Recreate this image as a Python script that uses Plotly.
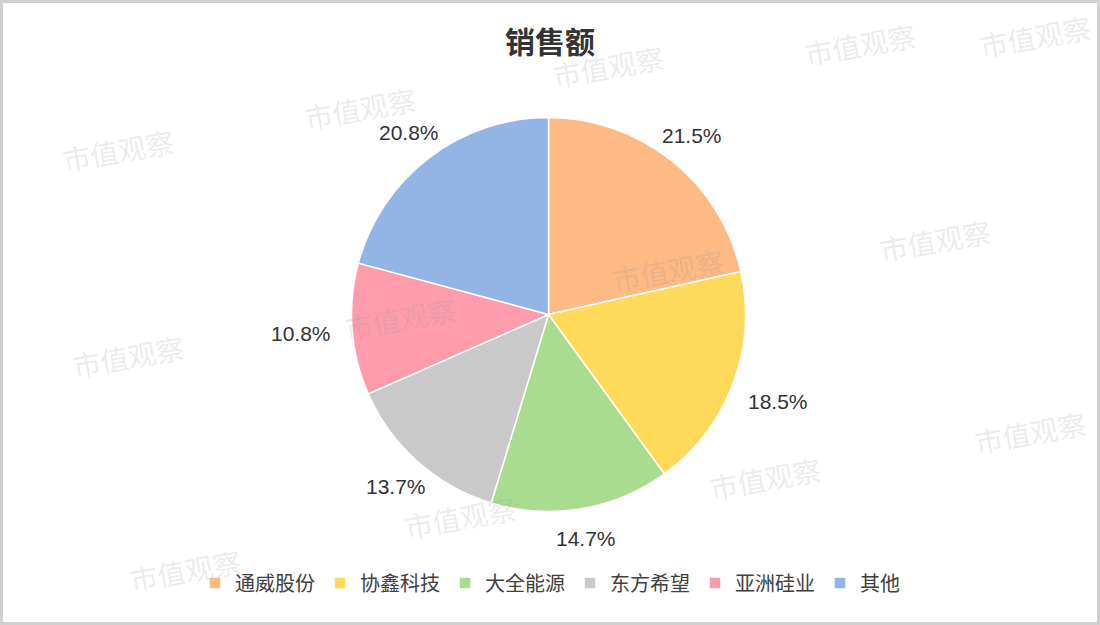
import math
import plotly.graph_objects as go

categories = ["通威股份", "协鑫科技", "大全能源", "东方希望", "亚洲硅业", "其他"]
shares = [21.5, 18.5, 14.7, 13.7, 10.8, 20.8]
colors = ["#ffb985", "#ffd95a", "#a9dc8e", "#c9c9c9", "#ff9cab", "#93b5e6"]
title_text = "销售额"
watermark_text = "市值观察"
watermark_pos = [(118, 150), (360, 108), (608, 66), (860, 44), (1035, 36),
                 (128, 356), (400, 318), (668, 270), (935, 240), (1030, 432),
                 (765, 478), (460, 517), (185, 570)]

W, H = 1100, 625
cx, cy, r = 548.5, 314.5, 197
label_gap = 20          # distance from pie edge to label box
label_font = 21
label_w_per_char = 12.4  # approx text advance per character at label_font
label_half_h = 10

fig = go.Figure()
fig.add_trace(go.Pie(
    labels=categories,
    values=shares,
    sort=False,
    direction="clockwise",
    rotation=0,
    marker=dict(colors=colors, line=dict(color="#ffffff", width=1.5)),
    textinfo="none",
    hoverinfo="label+percent",
    domain=dict(x=[(cx - r) / W, (cx + r) / W], y=[1 - (cy + r) / H, 1 - (cy - r) / H]),
    automargin=False,
))

annotations = []
# percentage labels placed outside each slice at its mid-angle (computed from data)
total = sum(shares)
cum = 0.0
for v in shares:
    mid = (cum + v / 2) / total * 2 * math.pi
    cum += v
    s, c = math.sin(mid), math.cos(mid)
    txt = f"{v / total * 100:.1f}%"
    half_w = len(txt) * label_w_per_char / 2
    edge = min(half_w / abs(s) if abs(s) > 1e-6 else 1e9,
               label_half_h / abs(c) if abs(c) > 1e-6 else 1e9)
    d = r + label_gap + edge
    px, py = cx + d * s, cy - d * c
    annotations.append(dict(
        x=px / W, y=1 - py / H, xref="paper", yref="paper",
        xanchor="center", yanchor="middle", text=txt, showarrow=False,
        font=dict(family="Liberation Sans, Arial, sans-serif", size=label_font, color="#333333"),
    ))

for (x, y) in watermark_pos:
    annotations.append(dict(
        x=x / W, y=1 - y / H, xref="paper", yref="paper",
        xanchor="center", yanchor="middle",
        text=watermark_text, showarrow=False, textangle=-10,
        font=dict(family="Noto Sans CJK SC", size=28, color="rgba(150,150,150,0.2)"),
    ))

fig.update_layout(
    width=W, height=H,
    margin=dict(l=0, r=0, t=0, b=0),
    paper_bgcolor="#ffffff",
    plot_bgcolor="#ffffff",
    title=dict(text=title_text, x=0.5, xanchor="center", y=1 - 42 / H, yanchor="middle",
               font=dict(family="Noto Sans CJK SC", size=30, color="#333333", weight="bold")),
    legend=dict(orientation="h", x=0.5, xanchor="center", y=1 - 583 / H, yanchor="middle",
                font=dict(family="Noto Sans CJK SC", size=20, color="#404040"),
                itemwidth=30, traceorder="normal"),
    annotations=annotations,
    shapes=[dict(type="rect", xref="paper", yref="paper", x0=0, x1=1, y0=0, y1=1,
                 line=dict(color="#d0d0d0", width=6), fillcolor="rgba(0,0,0,0)", layer="above")],
)

fig.write_html("out.html", config={"displayModeBar": False},
               post_script="document.body.style.margin='0';document.body.style.padding='0';")
